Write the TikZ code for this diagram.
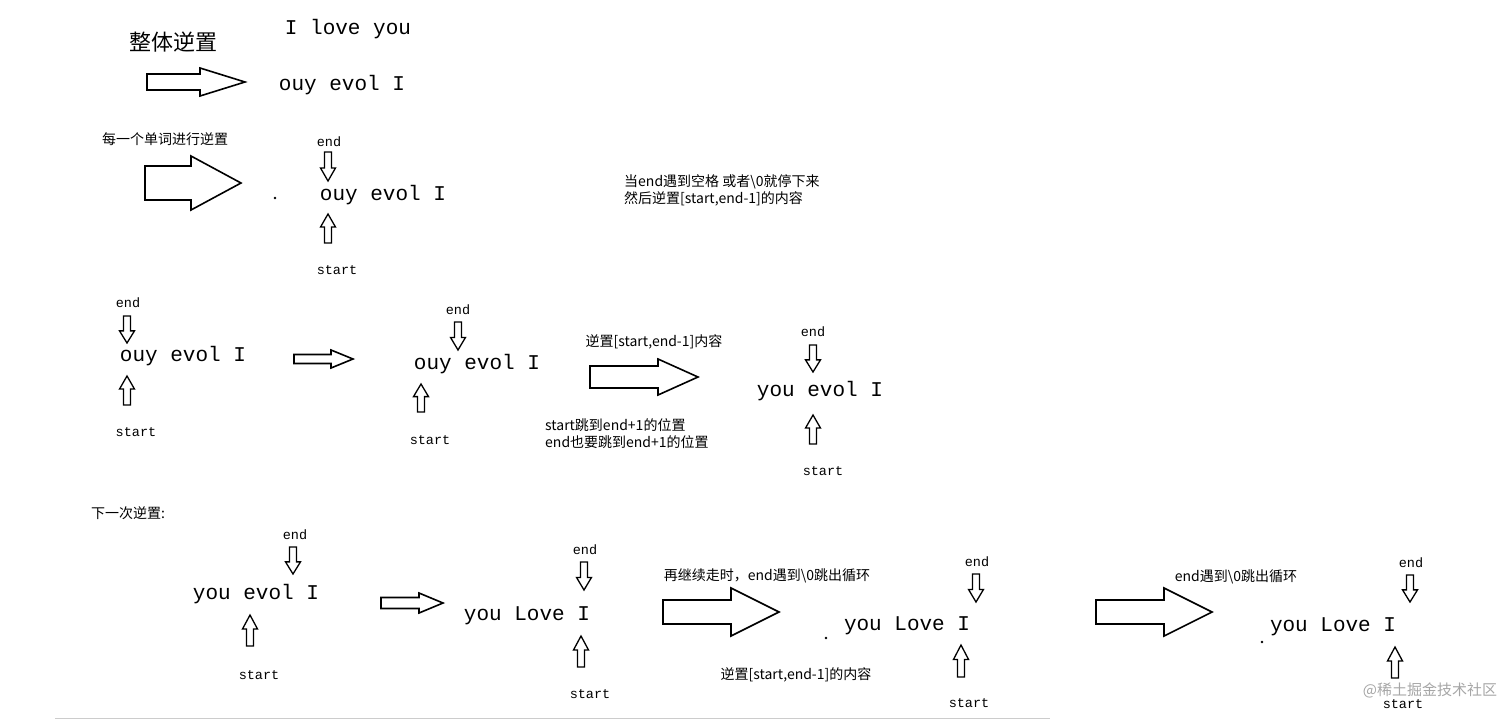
\documentclass[tikz,border=0pt]{standalone}
\usepackage{fontspec}
\setmainfont{Liberation Mono}
\newfontfamily\cjk{Noto Sans CJK SC}
% #1 x of tail, #2 y, #3 length, #4 shaft half, #5 head half, #6 head length
\newcommand{\harrow}[6]{\draw[blkarr] (#1,#2-#4) -- (#1+#3-#6,#2-#4) -- (#1+#3-#6,#2-#5) -- (#1+#3,#2) -- (#1+#3-#6,#2+#5) -- (#1+#3-#6,#2+#4) -- (#1,#2+#4) -- cycle;}
% vertical small arrows: #1 x, #2 tail y, #3 tip y (down or up)
\newcommand{\varrow}[3]{\draw[varr] (#1-3.5,#2) -- (#1-3.5,{#2+0.55*(#3-#2)}) -- (#1-7.5,{#2+0.55*(#3-#2)}) -- (#1,#3) -- (#1+7.5,{#2+0.55*(#3-#2)}) -- (#1+3.5,{#2+0.55*(#3-#2)}) -- (#1+3.5,#2) -- cycle;}
\begin{document}
\begin{tikzpicture}[x=1pt,y=-1pt,
 big/.style={font=\fontsize{21}{24}\selectfont, inner sep=0pt},
 lab/.style={font=\fontsize{13.5}{16}\selectfont, inner sep=0pt},
 note/.style={font=\cjk\fontsize{14}{17}\selectfont, inner sep=0pt},
 blkarr/.style={draw, line width=1.6pt, line join=miter},
 varr/.style={draw, line width=1.3pt, line join=miter},
 dot/.style={circle, fill, inner sep=0pt, minimum size=2.6pt}]
\useasboundingbox (0,0) rectangle (1512,721);
% top
\node[font=\cjk\fontsize{22}{24}\selectfont] (t1) at (173,42) {整体逆置};
\node[big] (s0) at (348,29) {I love you};
\harrow{147}{82}{98}{8}{14}{45}
\node[big] (s1) at (342,85) {ouy evol I};
% row 2
\node[note] (t2) at (165,139) {每一个单词进行逆置};
\harrow{145}{183}{96}{17}{27}{50}
\node[dot] (d2) at (275,198) {};
\node[lab] (e2) at (329,142) {end};
\varrow{328}{152}{181}
\node[big] (s2) at (383,195) {ouy evol I};
\varrow{328}{243}{214}
\node[lab] (st2) at (337,270) {start};
\node[note, align=left, anchor=west] (n2) at (624,190) {当end遇到空格 或者\textbackslash 0就停下来\\然后逆置[start,end-1]的内容};
% row 3 left
\node[lab] (e3) at (128,303) {end};
\varrow{127}{316}{343}
\node[big] (s3) at (183,356) {ouy evol I};
\varrow{127}{405}{376}
\node[lab] (st3) at (136,432) {start};
\harrow{294}{359}{59}{4.5}{9}{22}
% row 3 middle
\node[lab] (e4) at (458,310) {end};
\varrow{458}{322}{350}
\node[big] (s4) at (477,364) {ouy evol I};
\varrow{421}{412}{384}
\node[lab] (st4) at (430,440) {start};
\node[note] (n4) at (654,342) {逆置[start,end-1]内容};
\harrow{590}{377}{108}{11}{18}{40}
\node[note, align=left, anchor=west] (n5) at (545,434) {start跳到end+1的位置\\end也要跳到end+1的位置};
% row 3 right
\node[lab] (e5) at (813,332) {end};
\varrow{813}{345}{372}
\node[big] (s5) at (820,391) {you evol I};
\varrow{813}{444}{415}
\node[lab] (st5) at (823,471) {start};
% row 4
\node[note] (n6) at (128,513) {下一次逆置:};
\node[lab] (e6) at (295,535) {end};
\varrow{293}{547}{574}
\node[big] (s6) at (256,594) {you evol I};
\varrow{250}{646}{615}
\node[lab] (st6) at (259,675) {start};
\harrow{381}{603}{62}{5.5}{10}{24}
\node[lab] (e7) at (585,550) {end};
\varrow{584}{562}{590}
\node[big] (s7) at (527,616) {you Love I};
\varrow{581}{667}{636}
\node[lab] (st7) at (590,694) {start};
\node[note] (n7) at (767,576) {再继续走时，end遇到\textbackslash 0跳出循环};
\harrow{663}{612}{116}{12}{24}{48}
\node[dot] (d7) at (826,638) {};
\node[note] (n8) at (796,675) {逆置[start,end-1]的内容};
\node[lab] (e8) at (977,562) {end};
\varrow{976}{574}{602}
\node[big] (s8) at (907,626) {you Love I};
\varrow{961}{677}{645}
\node[lab] (st8) at (969,703) {start};
\node[note] (n9) at (1236,577) {end遇到\textbackslash 0跳出循环};
\harrow{1096}{612}{116}{12}{24}{48}
\node[dot] (d9) at (1262,642) {};
\node[lab] (e9) at (1411,563) {end};
\varrow{1410}{575}{602}
\node[big] (s9) at (1333,627) {you Love I};
\varrow{1395}{678}{647}
\node[lab] (st9) at (1403,704) {start};
\node[font=\cjk\fontsize{15}{16}\selectfont, text=gray!70] (wm) at (1430,690) {@稀土掘金技术社区};
\draw[gray!40, line width=1pt] (55,718) -- (1050,718);
\end{tikzpicture}
\end{document}
